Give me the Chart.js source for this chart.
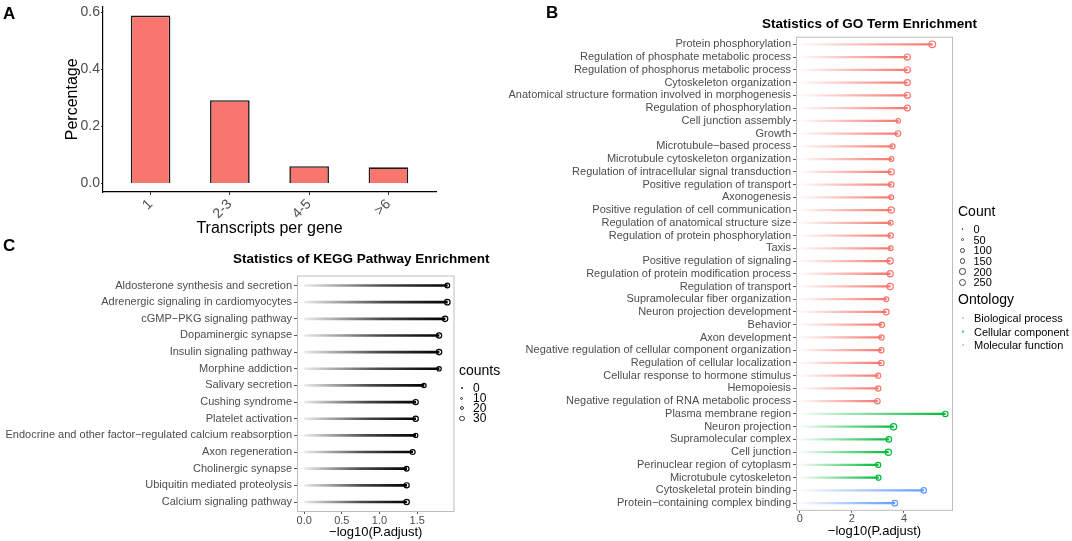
<!DOCTYPE html>
<html>
<head>
<meta charset="utf-8">
<script src="https://cdn.jsdelivr.net/npm/chart.js@4.4.0/dist/chart.umd.min.js"></script>
<style>
  body { margin: 0; width: 1072px; height: 541px; background: #fff; position: relative; overflow: hidden;
         font-family: "Liberation Sans", Arial, sans-serif; }
  .panel { position: absolute; }
  .txt { position: absolute; white-space: nowrap; line-height: 1; transform: translateY(-50%); color: #000; }
  .dot { position: absolute; border-radius: 50%; box-sizing: border-box; }
</style>
</head>
<body>
<div class="panel" id="boxA" style="left:0px;top:-20px;width:460px;height:260px"><canvas id="chartA"></canvas></div>
<div class="panel" id="boxC" style="left:0px;top:250px;width:480px;height:291px"><canvas id="chartC"></canvas></div>
<div class="panel" id="boxB" style="left:500px;top:10px;width:480px;height:531px"><canvas id="chartB"></canvas></div>

<script>
// panel A data
var transcriptCats = ["1", "2-3", "4-5", ">6"];
var transcriptPct = [0.588, 0.292, 0.061, 0.057];
var pctTicks = [0, 0.2, 0.4, 0.6];

// panel C data (KEGG)
var keggTerms = ["Aldosterone synthesis and secretion", "Adrenergic signaling in cardiomyocytes",
  "cGMP\u2212PKG signaling pathway", "Dopaminergic synapse", "Insulin signaling pathway",
  "Morphine addiction", "Salivary secretion", "Cushing syndrome", "Platelet activation",
  "Endocrine and other factor\u2212regulated calcium reabsorption", "Axon regeneration",
  "Cholinergic synapse", "Ubiquitin mediated proteolysis", "Calcium signaling pathway"];
var keggValues = [1.90, 1.90, 1.87, 1.79, 1.79, 1.79, 1.59, 1.48, 1.48, 1.48, 1.44, 1.36, 1.36, 1.36];
var keggCounts = [24, 34, 33, 30, 33, 22, 20, 30, 31, 20, 27, 25, 30, 33];
var keggTicks = [0, 0.5, 1, 1.5];
var keggCountKeys = [0, 10, 20, 30];

// panel B data (GO)
var goTerms = ["Protein phosphorylation", "Regulation of phosphate metabolic process",
  "Regulation of phosphorus metabolic process", "Cytoskeleton organization",
  "Anatomical structure formation involved in morphogenesis", "Regulation of phosphorylation",
  "Cell junction assembly", "Growth", "Microtubule\u2212based process",
  "Microtubule cytoskeleton organization", "Regulation of intracellular signal transduction",
  "Positive regulation of transport", "Axonogenesis", "Positive regulation of cell communication",
  "Regulation of anatomical structure size", "Regulation of protein phosphorylation", "Taxis",
  "Positive regulation of signaling", "Regulation of protein modification process",
  "Regulation of transport", "Supramolecular fiber organization", "Neuron projection development",
  "Behavior", "Axon development", "Negative regulation of cellular component organization",
  "Regulation of cellular localization", "Cellular response to hormone stimulus", "Hemopoiesis",
  "Negative regulation of RNA metabolic process", "Plasma membrane region", "Neuron projection",
  "Supramolecular complex", "Cell junction", "Perinuclear region of cytoplasm",
  "Microtubule cytoskeleton", "Cytoskeletal protein binding", "Protein\u2212containing complex binding"];
var goValues = [5.09, 4.13, 4.13, 4.13, 4.13, 4.13, 3.78, 3.77, 3.56, 3.52, 3.51, 3.51, 3.51, 3.51,
  3.49, 3.49, 3.49, 3.47, 3.47, 3.47, 3.32, 3.32, 3.15, 3.14, 3.13, 3.13, 3.01, 3.01, 2.98,
  5.59, 3.60, 3.42, 3.40, 3.01, 3.02, 4.76, 3.65];
var goCounts = [230, 195, 195, 190, 190, 180, 110, 160, 130, 115, 190, 150, 120, 200, 120, 150, 120,
  190, 190, 200, 120, 170, 140, 130, 140, 150, 130, 140, 150, 150, 200, 150, 200, 130, 130, 150, 160];
var goOntology = ["BP", "BP", "BP", "BP", "BP", "BP", "BP", "BP", "BP", "BP", "BP", "BP", "BP", "BP",
  "BP", "BP", "BP", "BP", "BP", "BP", "BP", "BP", "BP", "BP", "BP", "BP", "BP", "BP", "BP",
  "CC", "CC", "CC", "CC", "CC", "CC", "MF", "MF"];
var goTicks = [0, 2, 4];
var goCountKeys = [0, 50, 100, 150, 200, 250];
var ontologyNames = ["Biological process", "Cellular component", "Molecular function"];

var ontologyRgb = { BP: [248, 118, 109], CC: [0, 186, 56], MF: [97, 156, 255] };
var greyText = '#4d4d4d';

function rgba(c, a) { return 'rgba(' + c[0] + ',' + c[1] + ',' + c[2] + ',' + a + ')'; }
function goRadius(n) { return Math.max(0.7, Math.sqrt(n / 250) * 3.5); }
function keggRadius(n) { return Math.max(0.7, Math.sqrt(n / 30) * 2.6); }

// line faded from the axis to the point
function fadeFill(colorOf, stops) {
  return function (ctx) {
    var chart = ctx.chart;
    if (!chart.chartArea || ctx.type !== 'data') return 'rgba(0,0,0,0)';
    var xs = chart.scales.x;
    var x0 = xs.getPixelForValue(0), x1 = xs.getPixelForValue(ctx.raw.x);
    var col = colorOf(ctx.dataIndex);
    var g = chart.ctx.createLinearGradient(x0, 0, x1, 0);
    stops.forEach(function (s) { g.addColorStop(s[0], rgba(col, s[1])); });
    return g;
  };
}

var framePlugin = {
  id: 'frame',
  beforeDatasetsDraw: function (chart) {
    var a = chart.chartArea, c = chart.ctx;
    c.save();
    c.strokeStyle = '#bdbdbd';
    c.lineWidth = 1;
    c.strokeRect(a.left + 0.5, a.top + 0.5, a.right - a.left - 1, a.bottom - a.top - 1);
    c.restore();
  }
};

Chart.defaults.font.family = '"Liberation Sans", Arial, sans-serif';

// ---------- A: transcripts per gene ----------
new Chart(document.getElementById('chartA'), {
  type: 'bar',
  data: {
    datasets: [{
      data: transcriptPct.map(function (v, i) { return { x: i + 1, y: v }; }),
      backgroundColor: '#F8766D',
      borderColor: '#1a1a1a',
      borderWidth: 1.6,
      barPercentage: 0.5,
      categoryPercentage: 1
    }]
  },
  options: {
    animation: false, responsive: true, maintainAspectRatio: false,
    plugins: { legend: { display: false }, tooltip: { enabled: false } },
    layout: { padding: { left: 63, top: 26.6, right: 24, bottom: 2 } },
    scales: {
      x: {
        type: 'linear', min: 0.4, max: 4.6, offset: false,
        afterBuildTicks: function (s) { s.ticks = transcriptCats.map(function (c, i) { return { value: i + 1 }; }); },
        ticks: { callback: function (v) { return transcriptCats[v - 1]; }, minRotation: 45, maxRotation: 45,
                 autoSkip: false, font: { size: 14 }, color: greyText, padding: 1 },
        grid: { offset: false, drawOnChartArea: false, tickLength: 3, color: '#333' },
        border: { display: true, color: '#000', width: 1.2 },
        title: { display: true, text: 'Transcripts per gene', font: { size: 16 }, color: '#000', padding: 0 },
        afterFit: function (s) { s.height = 46; }
      },
      y: {
        min: -0.0295, max: 0.6195,
        afterBuildTicks: function (s) { s.ticks = pctTicks.map(function (v) { return { value: v }; }); },
        ticks: { callback: function (v) { return v.toFixed(1); }, font: { size: 14 }, color: greyText, padding: 1 },
        grid: { drawOnChartArea: false, tickLength: 2, color: '#333' },
        border: { display: true, color: '#000', width: 1.2 },
        title: { display: true, text: 'Percentage', font: { size: 16 }, color: '#000', padding: 0 },
        afterFit: function (s) { s.width = 40; }
      }
    }
  }
});

// ---------- lollipop helper ----------
function lollipop(canvasId, terms, values, counts, colorOf, stops, radius, lineW, xMin, xMax, xTicks, tickFmt, yWidth, pad) {
  return new Chart(document.getElementById(canvasId), {
    type: 'bar',
    data: {
      datasets: [{
        type: 'bar',
        data: values.map(function (v, i) { return { x: v, y: i }; }),
        backgroundColor: fadeFill(colorOf, stops),
        barThickness: lineW,
        borderWidth: 0
      }, {
        type: 'scatter',
        data: values.map(function (v, i) { return { x: v, y: i }; }),
        pointRadius: counts.map(radius),
        pointBackgroundColor: '#fff',
        pointBorderColor: values.map(function (v, i) { return rgba(colorOf(i), 1); }),
        pointBorderWidth: 1.2
      }]
    },
    plugins: [framePlugin],
    options: {
      indexAxis: 'y',
      animation: false, responsive: true, maintainAspectRatio: false,
      plugins: { legend: { display: false }, tooltip: { enabled: false } },
      layout: { padding: pad },
      scales: {
        x: {
          type: 'linear', min: xMin, max: xMax,
          afterBuildTicks: function (s) { s.ticks = xTicks.map(function (v) { return { value: v }; }); },
          ticks: { callback: tickFmt, font: { size: 11 }, color: greyText, padding: 0 },
          grid: { drawOnChartArea: false, tickLength: 2, color: '#555' },
          border: { display: false },
          title: { display: true, text: '\u2212log10(P.adjust)', font: { size: 13 }, color: '#000', padding: 0 },
          afterFit: function (s) { s.height = 28; }
        },
        y: {
          type: 'linear', reverse: true, min: -0.6, max: terms.length - 0.4, offset: false,
          afterBuildTicks: function (s) { s.ticks = terms.map(function (t, i) { return { value: i }; }); },
          ticks: { callback: function (v) { return terms[v]; }, autoSkip: false, font: { size: 11 }, color: greyText, padding: 2 },
          grid: { offset: false, drawOnChartArea: false, tickLength: 3, color: '#555' },
          border: { display: false },
          afterFit: function (s) { s.width = yWidth; }
        }
      }
    }
  });
}

// ---------- C: KEGG ----------
lollipop('chartC', keggTerms, keggValues, keggCounts,
  function () { return [0, 0, 0]; }, [[0, 0.08], [0.55, 0.7], [1, 1]], keggRadius, 2,
  -0.095, 1.995, keggTicks, function (v) { return v.toFixed(1); }, 297,
  { left: 0, top: 25.5, right: 25.5, bottom: 1 });

// ---------- B: GO ----------
lollipop('chartB', goTerms, goValues, goCounts,
  function (i) { return ontologyRgb[goOntology[i]]; }, [[0, 0.03], [1, 1]], goRadius, 1.6,
  -0.15, 5.885, goTicks, function (v) { return String(v); }, 296,
  { left: 0, top: 26.7, right: 27, bottom: 2.2 });

// ---------- text and legends ----------
function addText(t, x, y, size, bold, color) {
  var d = document.createElement('div');
  d.className = 'txt';
  d.textContent = t;
  d.style.left = x + 'px';
  d.style.top = y + 'px';
  d.style.fontSize = size + 'px';
  if (bold) d.style.fontWeight = 'bold';
  if (color) d.style.color = color;
  document.body.appendChild(d);
}
function addDot(x, y, r, border, fill) {
  var d = document.createElement('div');
  d.className = 'dot';
  d.style.left = (x - r) + 'px';
  d.style.top = (y - r) + 'px';
  d.style.width = (2 * r) + 'px';
  d.style.height = (2 * r) + 'px';
  d.style.border = border;
  d.style.background = fill;
  document.body.appendChild(d);
}

addText('A', 3, 13, 17, true);
addText('B', 546, 12, 17, true);
addText('C', 3, 245, 17, true);

addText('Statistics of KEGG Pathway Enrichment', 233, 259, 13.5, true);
addText('Statistics of GO Term Enrichment', 762, 24, 13.5, true);

// KEGG counts legend
addText('counts', 459, 370, 14, false);
keggCountKeys.forEach(function (n, i) {
  var y = 388 + i * 10.1;
  var r = keggRadius(n);
  if (n === 0) addDot(462, y, 0.8, 'none', '#333');
  else addDot(462, y, r, '1.1px solid #333', '#fff');
  addText(String(n), 473, y, 12, false);
});

// GO count legend
addText('Count', 958, 211, 14, false);
goCountKeys.forEach(function (n, i) {
  var y = 229 + i * 10.65;
  var r = goRadius(n);
  if (n === 0) addDot(962.5, y, 0.8, 'none', '#333');
  else addDot(962.5, y, r, '1px solid #444', '#fff');
  addText(String(n), 973.5, y, 11, false);
});

// GO ontology legend
addText('Ontology', 958, 299, 14, false);
['BP', 'CC', 'MF'].forEach(function (k, i) {
  var y = 318.3 + i * 13.2;
  addDot(963, y, 1.2, 'none', rgba(ontologyRgb[k], 0.6));
  addText(ontologyNames[i], 974, y, 11, false);
});
</script>
</body>
</html>
